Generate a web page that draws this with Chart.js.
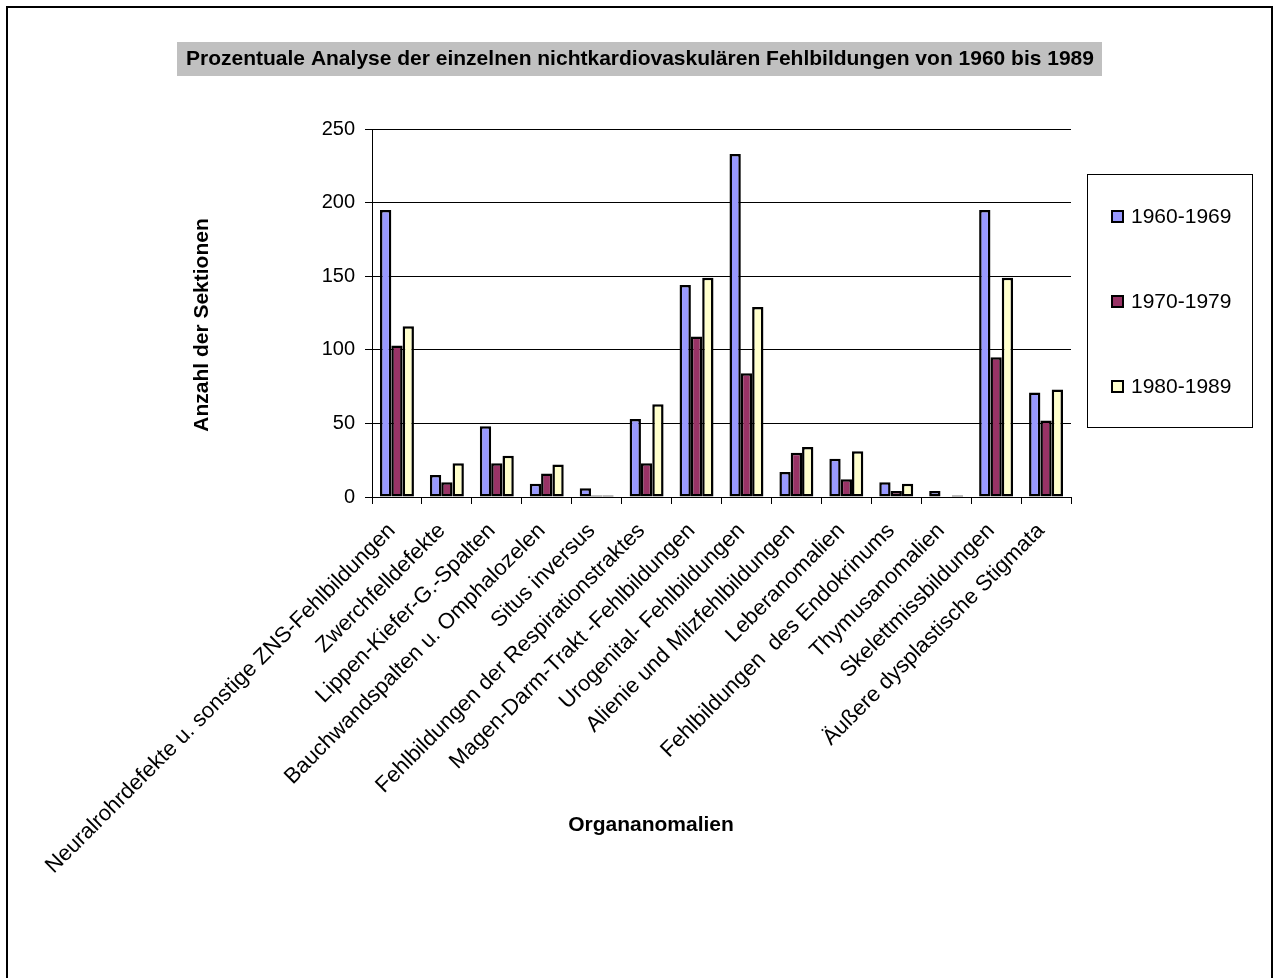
<!DOCTYPE html>
<html>
<head>
<meta charset="utf-8">
<script src="https://cdn.jsdelivr.net/npm/chart.js@4/dist/chart.umd.min.js"></script>
<style>
  html, body { margin: 0; padding: 0; background: #fff; }
  #wrap { width: 1274px; height: 978px; position: relative; }
</style>
</head>
<body>
<div id="wrap"><canvas id="c"></canvas></div>
<script>
const chartTitle = 'Prozentuale Analyse der einzelnen nichtkardiovaskulären Fehlbildungen von 1960 bis 1989';
const xTitle = 'Organanomalien';
const yTitle = 'Anzahl der Sektionen';

const categories = [
  'Neuralrohrdefekte u. sonstige ZNS-Fehlbildungen',
  'Zwerchfelldefekte',
  'Lippen-Kiefer-G.-Spalten',
  'Bauchwandspalten u. Omphalozelen',
  'Situs inversus',
  'Fehlbildungen der Respirationstraktes',
  'Magen-Darm-Trakt -Fehlbildungen',
  'Urogenital- Fehlbildungen',
  'Alienie und Milzfehlbildungen',
  'Leberanomalien',
  'Fehlbildungen  des Endokrinums',
  'Thymusanomalien',
  'Skelettmissbildungen',
  'Äußere dysplastische Stigmata'
];

const seriesNames = ['1960-1969', '1970-1979', '1980-1989'];
const values1960 = [195, 15, 48, 9, 6, 53, 144, 233, 17, 26, 10, 4, 195, 71];
const values1970 = [103, 10, 23, 16, 1, 23, 109, 84, 30, 12, 4, 0, 95, 52];
const values1980 = [116, 23, 28, 22, 1, 63, 149, 129, 34, 31, 9, 1, 149, 73];
const seriesColors = ['#9999FF', '#993366', '#FFFFCC'];

const yTicks = [0, 50, 100, 150, 200, 250];

const FONT = '"Liberation Sans", Arial, sans-serif';

// Frame, title band, axis titles and the boxed legend
const decorations = {
  id: 'decorations',
  afterDraw(chart) {
    const ctx = chart.ctx;
    ctx.save();

    // outer frame
    ctx.strokeStyle = '#000';
    ctx.lineWidth = 2;
    ctx.strokeRect(7, 7, 1265, 980);

    // title on grey band
    ctx.fillStyle = '#C0C0C0';
    ctx.fillRect(177, 42, 925, 34);
    ctx.fillStyle = '#000';
    ctx.font = 'bold 21px ' + FONT;
    ctx.textAlign = 'center';
    ctx.textBaseline = 'middle';
    ctx.fillText(chartTitle, 640, 59);

    // axis titles
    ctx.font = 'bold 21px ' + FONT;
    ctx.fillText(xTitle, 651, 825);
    ctx.save();
    ctx.translate(202, 325);
    ctx.rotate(-Math.PI / 2);
    ctx.fillText(yTitle, 0, 0);
    ctx.restore();

    // legend box
    ctx.lineWidth = 1;
    ctx.strokeStyle = '#000';
    ctx.strokeRect(1087.5, 174.5, 165, 253);
    ctx.font = '21px ' + FONT;
    ctx.textAlign = 'left';
    chart.data.datasets.forEach((ds, i) => {
      const cy = 216 + i * 85;
      ctx.fillStyle = ds.backgroundColor;
      ctx.fillRect(1111, cy - 6, 13, 13);
      ctx.lineWidth = 2;
      ctx.strokeRect(1112, cy - 5, 11, 11);
      ctx.fillStyle = '#000';
      ctx.fillText(ds.label, 1131, cy + 1);
    });

    ctx.restore();
  }
};

const mkSet = (i, data) => ({
  label: seriesNames[i],
  data: data,
  backgroundColor: seriesColors[i],
  borderColor: '#000',
  borderWidth: 2.5,
  borderSkipped: false,
  categoryPercentage: 0.68,
  barPercentage: 1.0
});

new Chart(document.getElementById('c'), {
  type: 'bar',
  data: {
    labels: categories,
    datasets: [mkSet(0, values1960), mkSet(1, values1970), mkSet(2, values1980)]
  },
  options: {
    responsive: true,
    maintainAspectRatio: false,
    animation: false,
    layout: { padding: { left: 0, top: 129, right: 203, bottom: 0 } },
    plugins: {
      legend: { display: false },
      title: { display: false },
      tooltip: { enabled: false }
    },
    scales: {
      x: {
        grid: {
          offset: true,
          drawOnChartArea: false,
          drawTicks: true,
          tickLength: 7,
          color: '#000'
        },
        border: { display: true, color: '#000', width: 1 },
        ticks: {
          autoSkip: false,
          maxRotation: 45,
          minRotation: 45,
          padding: 14,
          labelOffset: -5,
          color: '#000',
          font: { family: FONT, size: 22 }
        },
        afterFit(scale) { scale.height = 978 - 497; }
      },
      y: {
        min: 0,
        max: 250,
        afterBuildTicks(scale) { scale.ticks = yTicks.map(v => ({ value: v })); },
        grid: {
          color: '#000',
          lineWidth: 1,
          drawTicks: true,
          tickLength: 7
        },
        border: { display: true, color: '#000', width: 1 },
        ticks: {
          padding: 10,
          color: '#000',
          font: { family: FONT, size: 20 }
        },
        afterFit(scale) { scale.width = 372; }
      }
    }
  },
  plugins: [decorations]
});
</script>
</body>
</html>
